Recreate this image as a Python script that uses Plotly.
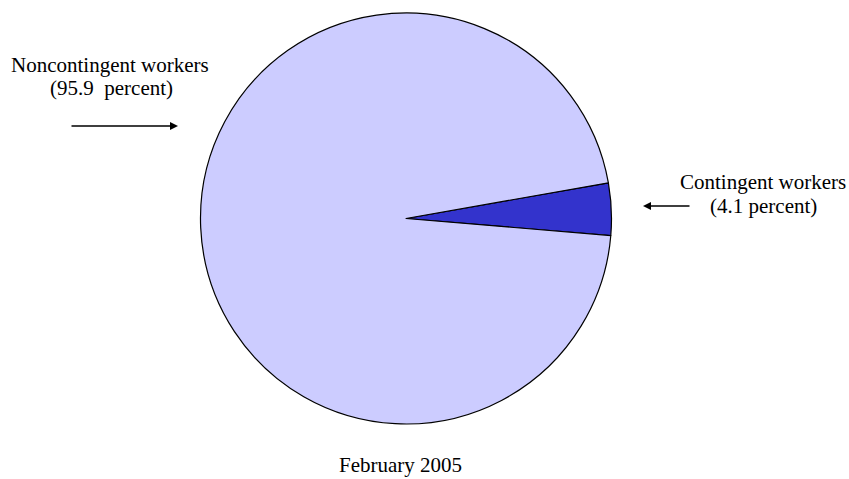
import plotly.graph_objects as go

labels = ["Contingent workers", "Noncontingent workers"]
values = [4.1, 95.9]
colors = ["#3333CC", "#CCCCFF"]
caption = "February 2005"

W, H = 849, 479
cx, cy, r = 406, 218.5, 205.5

fig = go.Figure(go.Pie(
    labels=labels, values=values, sort=False, direction="clockwise", rotation=80,
    marker=dict(colors=colors, line=dict(color="black", width=1.2)),
    textinfo="none", hoverinfo="label+percent", showlegend=False,
    domain=dict(x=[(cx - r) / W, (cx + r) / W], y=[1 - (cy + r) / H, 1 - (cy - r) / H]),
))

font = dict(family="Liberation Serif, Times New Roman, serif", size=21, color="black")

def px(x, y):
    return x / W, 1 - y / H

ann = []
def label(text, x, y):
    xx, yy = px(x, y)
    ann.append(dict(x=xx, y=yy, xref="paper", yref="paper", showarrow=False,
                    xanchor="center", yanchor="middle", text=text, font=font))

label("Noncontingent workers", 110, 65)
label("(95.9  percent)", 111, 88)
label("Contingent workers", 762.5, 182)
label("(4.1 percent)", 763, 206)
ann.append(dict(x=400 / W, y=0, xref="paper", yref="paper", showarrow=False,
                xanchor="center", yanchor="bottom", text=caption, font=font))

def arrow(x_head, y_head, x_tail):
    xx, yy = px(x_head, y_head)
    ann.append(dict(x=xx, y=yy, xref="paper", yref="paper", showarrow=True,
                    ax=x_tail - x_head, ay=0, arrowhead=2, arrowsize=1,
                    arrowwidth=1.6, arrowcolor="black", text=""))

arrow(178, 126, 70)
arrow(643, 206, 691)

fig.update_layout(width=W, height=H, margin=dict(l=0, r=0, t=0, b=0),
                  paper_bgcolor="white", plot_bgcolor="white", annotations=ann)
fig.write_html("out.html", config={"displayModeBar": False},
               post_script="document.body.style.margin='0';document.body.style.overflow='hidden';")
